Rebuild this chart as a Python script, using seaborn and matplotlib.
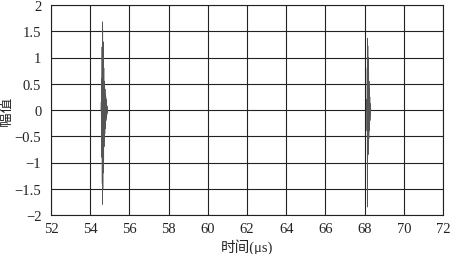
import matplotlib
matplotlib.use("Agg")
import matplotlib.pyplot as plt
import seaborn as sns
import pandas as pd

# Burst 1 (around 54.7 us)
t1 = [54.55, 54.56, 54.57, 54.58, 54.59, 54.60, 54.61, 54.62, 54.63, 54.64,
      54.65, 54.66, 54.67, 54.68, 54.69, 54.70, 54.71, 54.72, 54.73, 54.74,
      54.75, 54.76, 54.77, 54.78, 54.79, 54.80, 54.81, 54.82, 54.83, 54.84,
      54.85, 54.86, 54.87, 54.88, 54.89, 54.90]
a1 = [0.00, 0.15, -0.30, 0.60, -0.90, 1.20, -1.40, 1.68, -1.80, 1.55,
      -1.50, 1.30, -1.20, 1.00, -0.95, 0.80, -0.70, 0.55, -0.60, 0.45,
      -0.45, 0.40, -0.35, 0.30, -0.30, 0.25, -0.20, 0.20, -0.15, 0.12,
      -0.10, 0.08, -0.06, 0.04, -0.02, 0.00]

# Burst 2 (around 68.2 us)
t2 = [68.10, 68.11, 68.12, 68.13, 68.14, 68.15, 68.16, 68.17, 68.18, 68.19,
      68.20, 68.21, 68.22, 68.23, 68.24, 68.25, 68.26, 68.27, 68.28, 68.29,
      68.30, 68.31, 68.32]
a2 = [0.00, 0.20, -0.40, 0.80, -1.85, 1.37, -0.90, 1.22, -0.85, 1.00,
      -0.70, 0.75, -0.55, 0.55, -0.40, 0.40, -0.30, 0.25, -0.20, 0.12,
      -0.08, 0.04, 0.00]

xticks = [52, 54, 56, 58, 60, 62, 64, 66, 68, 70, 72]
yticks = [-2, -1.5, -1, -0.5, 0, 0.5, 1, 1.5, 2]
ytick_labels = ["\u22122", "\u22121.5", "\u22121", "\u22120.5", "0", "0.5", "1", "1.5", "2"]

sns.set_style("white")
plt.rcParams['font.family'] = ['Liberation Serif', 'Noto Sans CJK SC', 'DejaVu Sans']
plt.rcParams['axes.unicode_minus'] = True

fig = plt.figure(figsize=(4.51, 2.55), dpi=100)
ax = fig.add_axes([51/451, 39/255, 392/451, 210/255])

df1 = pd.DataFrame({"t": t1, "a": a1})
df2 = pd.DataFrame({"t": t2, "a": a2})
sns.lineplot(data=df1, x="t", y="a", ax=ax, sort=False, color="#555555", lw=0.45, estimator=None)
sns.lineplot(data=df2, x="t", y="a", ax=ax, sort=False, color="#555555", lw=0.45, estimator=None)

ax.set_xlim(52, 72)
ax.set_ylim(-2, 2)
ax.set_xticks(xticks)
ax.set_xticklabels([str(v) for v in xticks])
ax.set_yticks(yticks)
ax.set_yticklabels(ytick_labels)
ax.grid(True, color="#222222", lw=0.8)
ax.set_axisbelow(True)
for s in ax.spines.values():
    s.set_color("#222222")
    s.set_linewidth(0.8)
ax.tick_params(axis="x", length=0, labelsize=10.5, pad=5, colors="#222222")
ax.tick_params(axis="y", length=0, labelsize=10.5, pad=7, colors="#222222")
ax.set_xlabel("时间(μs)", fontsize=10.5, labelpad=2, family=['Liberation Serif', 'Noto Sans CJK SC'])
ax.set_ylabel("幅值", fontsize=10.5, labelpad=1, family=['Noto Sans CJK SC'])

fig.savefig("out.png", dpi=100)
